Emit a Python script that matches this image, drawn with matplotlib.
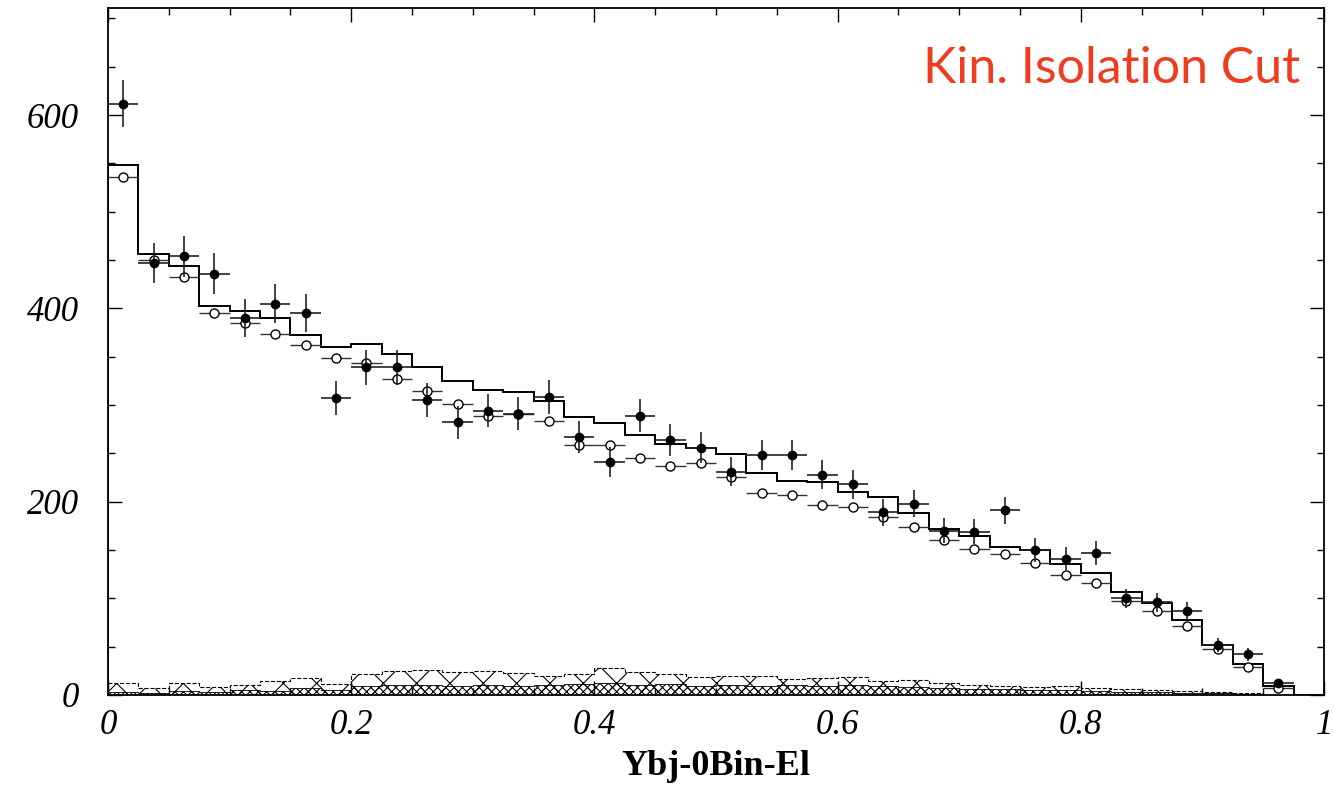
import numpy as np
import matplotlib.pyplot as plt
from matplotlib.ticker import MultipleLocator

# 40 bins of width 0.025 on [0, 1]
edges = np.linspace(0, 1, 41)
centers = 0.5 * (edges[:-1] + edges[1:])

data = [612, 447, 454, 436, 390, 405, 395, 307, 339, 339,
        305, 282, 294, 291, 308, 267, 241, 289, 264, 256,
        231, 248, 248, 228, 218, 189, 198, 170, 169, 191,
        150, 141, 147, 100, 96, 87, 52, 42, 12, 0]

mc_open = [536, 450, 432, 395, 385, 374, 362, 349, 343, 327,
           314, 301, 289, 291, 283, 259, 259, 245, 237, 240,
           226, 209, 207, 197, 194, 184, 174, 160, 151, 146,
           137, 124, 116, 97, 87, 71, 48, 29, 7, 0]

mc_hist = [548, 456, 444, 402, 397, 390, 372, 360, 363, 353,
           339, 325, 316, 313, 304, 288, 281, 269, 260, 256,
           249, 230, 221, 220, 210, 205, 188, 172, 164, 153,
           150, 136, 126, 107, 95, 78, 52, 32, 9, 0]

bkg_wide = [12, 7, 12, 8, 10, 14, 17, 11, 22, 25,
            26, 24, 25, 23, 20, 22, 28, 24, 22, 19,
            20, 20, 16, 18, 19, 14, 15, 12, 10, 9,
            8, 9, 7, 6, 5, 4, 3, 2, 0, 0]

bkg_dense = [3, 2, 4, 3, 5, 4, 7, 5, 9, 10,
             10, 9, 10, 9, 10, 11, 12, 10, 11, 9,
             10, 9, 10, 9, 10, 9, 8, 7, 6, 6,
             5, 5, 4, 3, 3, 2, 2, 1, 0, 0]

xtick_labels = ['0', '0.2', '0.4', '0.6', '0.8', '1']
ytick_labels = ['0', '200', '400', '600']

data = np.array(data, dtype=float)
mc_open = np.array(mc_open, dtype=float)
half = np.full(40, 0.0125)

plt.rcParams['hatch.linewidth'] = 0.8
fig = plt.figure(figsize=(13.34, 7.87), dpi=100)
ax = fig.add_axes([0.081, 0.117, 0.9115, 0.873])

ax.stairs(bkg_wide, edges, fill=True, facecolor='none', edgecolor='black',
          hatch='x', linestyle='--', linewidth=0.8)
ax.stairs(bkg_dense, edges, fill=True, facecolor='none', edgecolor='black',
          hatch='xxxx', linewidth=0.6)
ax.stairs(mc_hist, edges, color='black', linewidth=1.4)

m = mc_open > 0
ax.errorbar(centers[m], mc_open[m], xerr=half[m], fmt='o', ms=6.5,
            mfc='white', mec='black', mew=1.0, ecolor='#333333',
            elinewidth=1.0, capsize=0, zorder=3)
m = data > 0
ax.errorbar(centers[m], data[m], xerr=half[m], yerr=np.sqrt(data[m]),
            fmt='o', ms=6, color='black', ecolor='#222222',
            elinewidth=1.2, capsize=0, zorder=4)

ax.set_xlim(0, 1)
ax.set_ylim(0, 711)
ax.xaxis.set_minor_locator(MultipleLocator(0.05))
ax.yaxis.set_minor_locator(MultipleLocator(50))
ax.set_xticks([0, 0.2, 0.4, 0.6, 0.8, 1.0])
ax.set_xticklabels(xtick_labels, family='Liberation Serif', style='italic',
                   fontsize=25)
ax.set_yticks([0, 200, 400, 600])
ax.set_yticklabels(ytick_labels, family='Liberation Serif', style='italic',
                   fontsize=25)
ax.tick_params(which='both', direction='in', top=True, right=True, width=1.0)
ax.tick_params(which='major', length=10)
ax.tick_params(which='minor', length=5)
ax.tick_params(axis='x', which='major', pad=10)
ax.tick_params(axis='y', which='major', pad=21)
for sp in ax.spines.values():
    sp.set_linewidth(1.3)

ax.set_xlabel('Ybj-0Bin-El', family='Liberation Serif', fontweight='bold',
              fontsize=26, labelpad=6)
ax.text(0.98, 0.945, 'Kin. Isolation Cut', transform=ax.transAxes,
        ha='right', va='top', color='#f03c1e', fontsize=36, family='Lato')

fig.savefig('out.png', dpi=100)
